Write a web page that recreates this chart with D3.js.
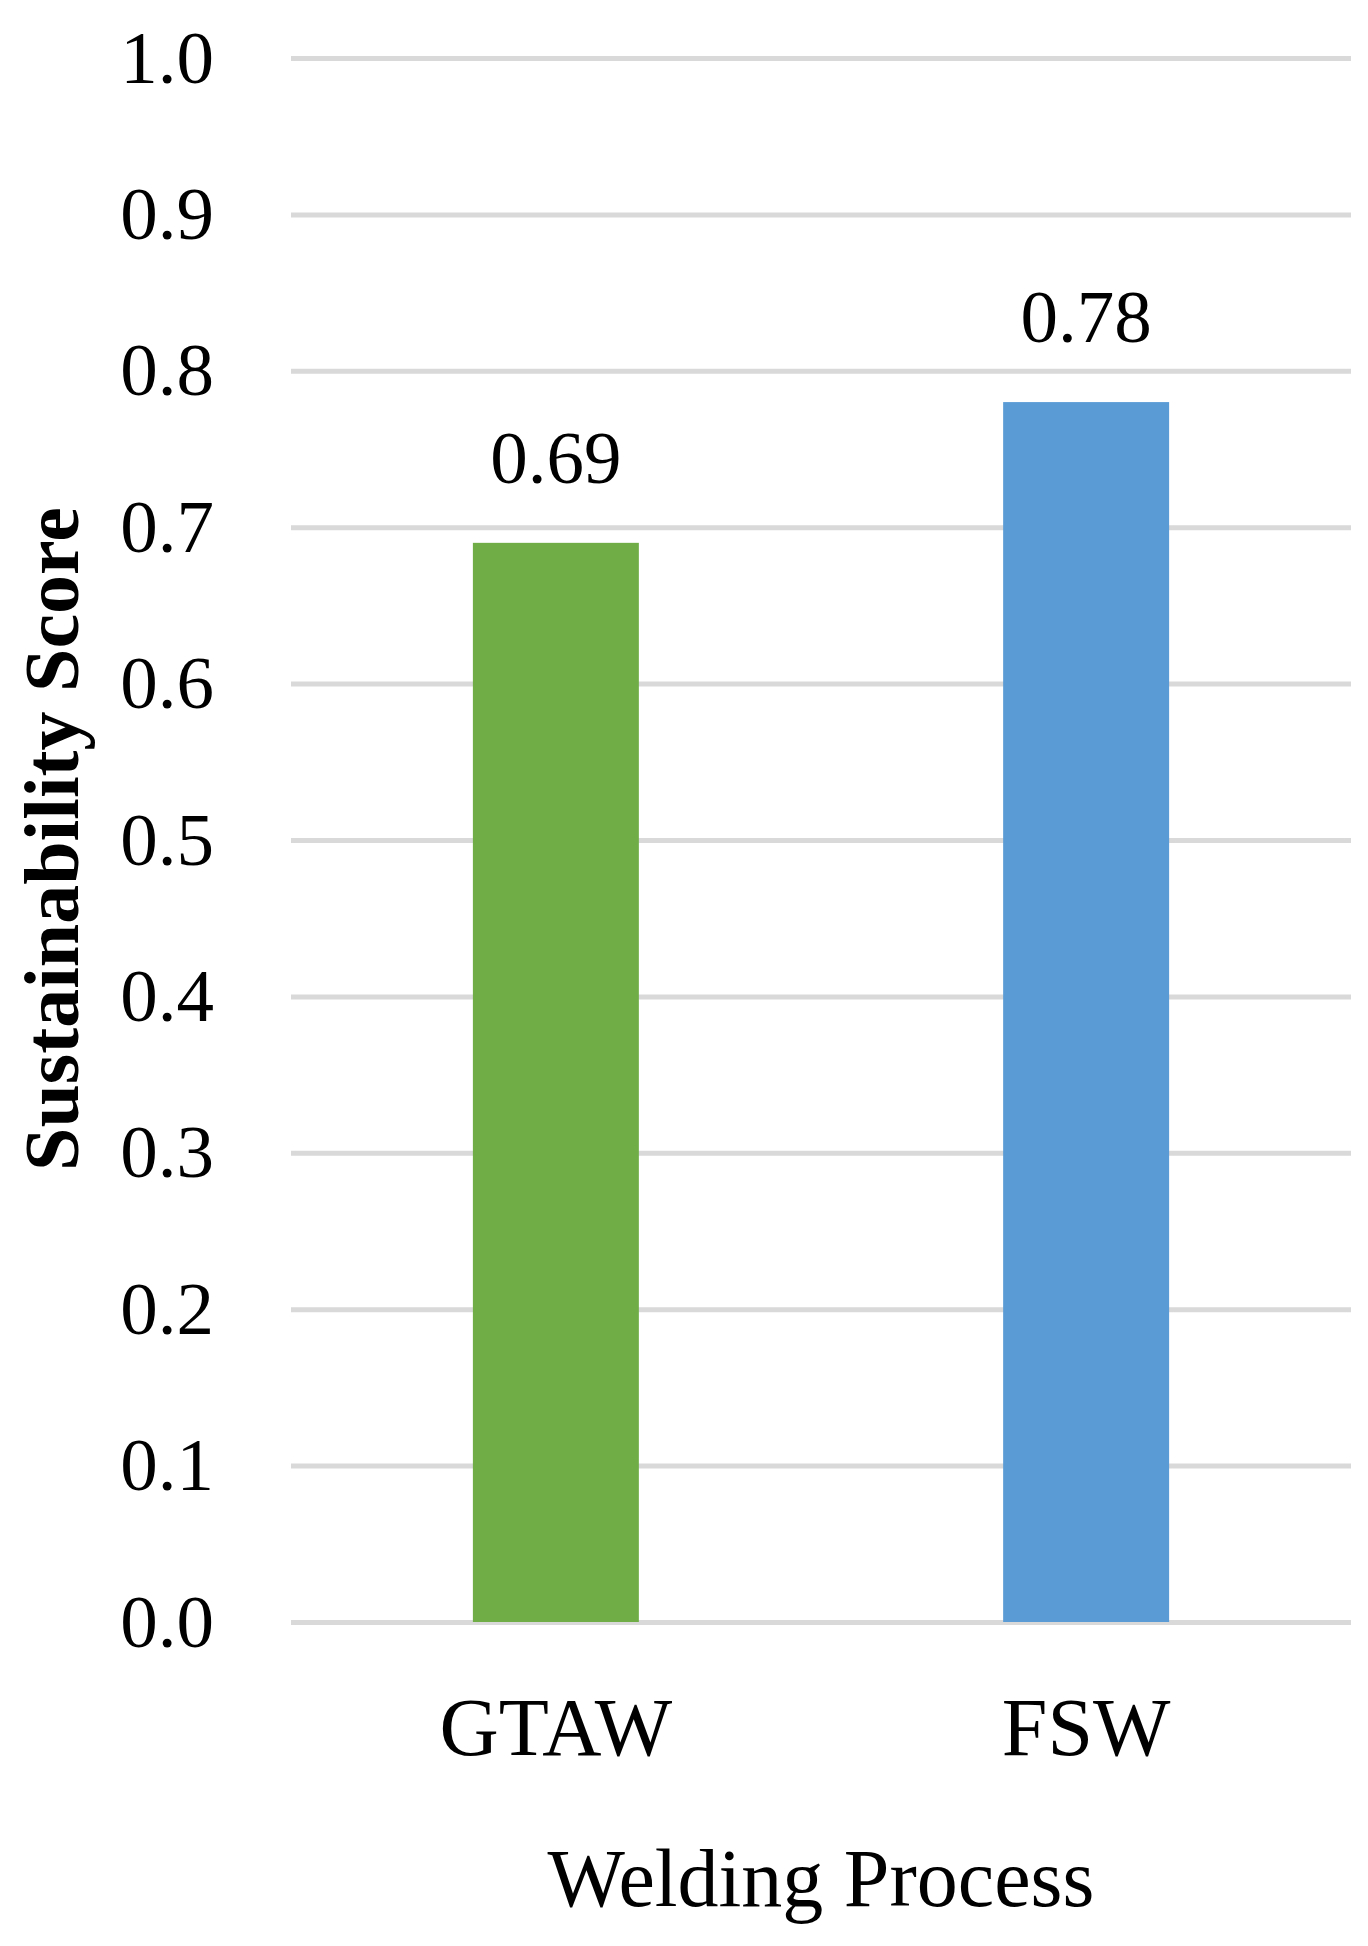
<!DOCTYPE html>
<html>
<head>
<meta charset="utf-8">
<script src="https://cdn.jsdelivr.net/npm/d3@7"></script>
<style>
  body { margin: 0; background: #fff; }
  text { font-family: "Liberation Serif", "DejaVu Serif", serif; fill: #000; }
</style>
</head>
<body>
<div id="main"></div>
<script>
const categories = ['GTAW', 'FSW'];
const scores = [0.69, 0.78];
const barColors = ['#70ad47', '#5b9bd5'];
const yTicks = [0, 0.1, 0.2, 0.3, 0.4, 0.5, 0.6, 0.7, 0.8, 0.9, 1.0];

const width = 1368;
const height = 1946;
const margin = { top: 58, right: 17, bottom: 324, left: 291 };
const innerWidth = width - margin.left - margin.right;
const innerHeight = height - margin.top - margin.bottom;

const svg = d3.select('#main').append('svg')
    .attr('width', width)
    .attr('height', height);

const g = svg.append('g')
    .attr('transform', `translate(${margin.left},${margin.top})`);

const xScale = d3.scaleBand()
  .domain(categories)
  .range([0, innerWidth])
  .paddingInner(0.687)
  .paddingOuter(0.343);

const yScale = d3.scaleLinear()
  .domain([0, 1])
  .range([innerHeight, 0]);

// gridlines
const yAxis = d3.axisLeft(yScale)
  .tickValues(yTicks)
  .tickFormat(d3.format('.1f'))
  .tickSize(-innerWidth)
  .tickPadding(77);

const yAxisG = g.append('g').call(yAxis);
yAxisG.select('.domain').remove();
yAxisG.selectAll('line').attr('stroke', '#d9d9d9').attr('stroke-width', 5);
yAxisG.selectAll('text')
  .style('font-size', '75px')
  .style('font-family', '"Liberation Serif", serif')
  .attr('fill', '#000');

// bars
g.selectAll('.bar').data(scores).enter().append('rect')
    .attr('x', (d, i) => xScale(categories[i]))
    .attr('y', d => yScale(d))
    .attr('width', xScale.bandwidth())
    .attr('height', d => innerHeight - yScale(d))
    .attr('fill', (d, i) => barColors[i]);

// value labels
g.selectAll('.val').data(scores).enter().append('text')
    .attr('x', (d, i) => xScale(categories[i]) + xScale.bandwidth() / 2)
    .attr('y', d => yScale(d) - 60)
    .attr('text-anchor', 'middle')
    .style('font-size', '75px')
    .text(d => d.toFixed(2));

// category labels
const xAxis = d3.axisBottom(xScale).tickSize(0).tickPadding(0);
const xAxisG = g.append('g').call(xAxis)
    .attr('transform', `translate(0,${innerHeight})`);
xAxisG.select('.domain').remove();
xAxisG.selectAll('text')
  .attr('dy', 0)
  .attr('y', 133)
  .style('font-size', '82px')
  .style('font-family', '"Liberation Serif", serif')
  .attr('fill', '#000');

// axis titles
svg.append('text')
    .attr('x', 821)
    .attr('y', 1906)
    .attr('text-anchor', 'middle')
    .style('font-size', '82px')
    .text('Welding Process');

svg.append('text')
    .attr('transform', 'translate(78,839) rotate(-90)')
    .attr('text-anchor', 'middle')
    .style('font-size', '78px')
    .style('font-weight', 'bold')
    .text('Sustainability Score');
</script>
</body>
</html>
